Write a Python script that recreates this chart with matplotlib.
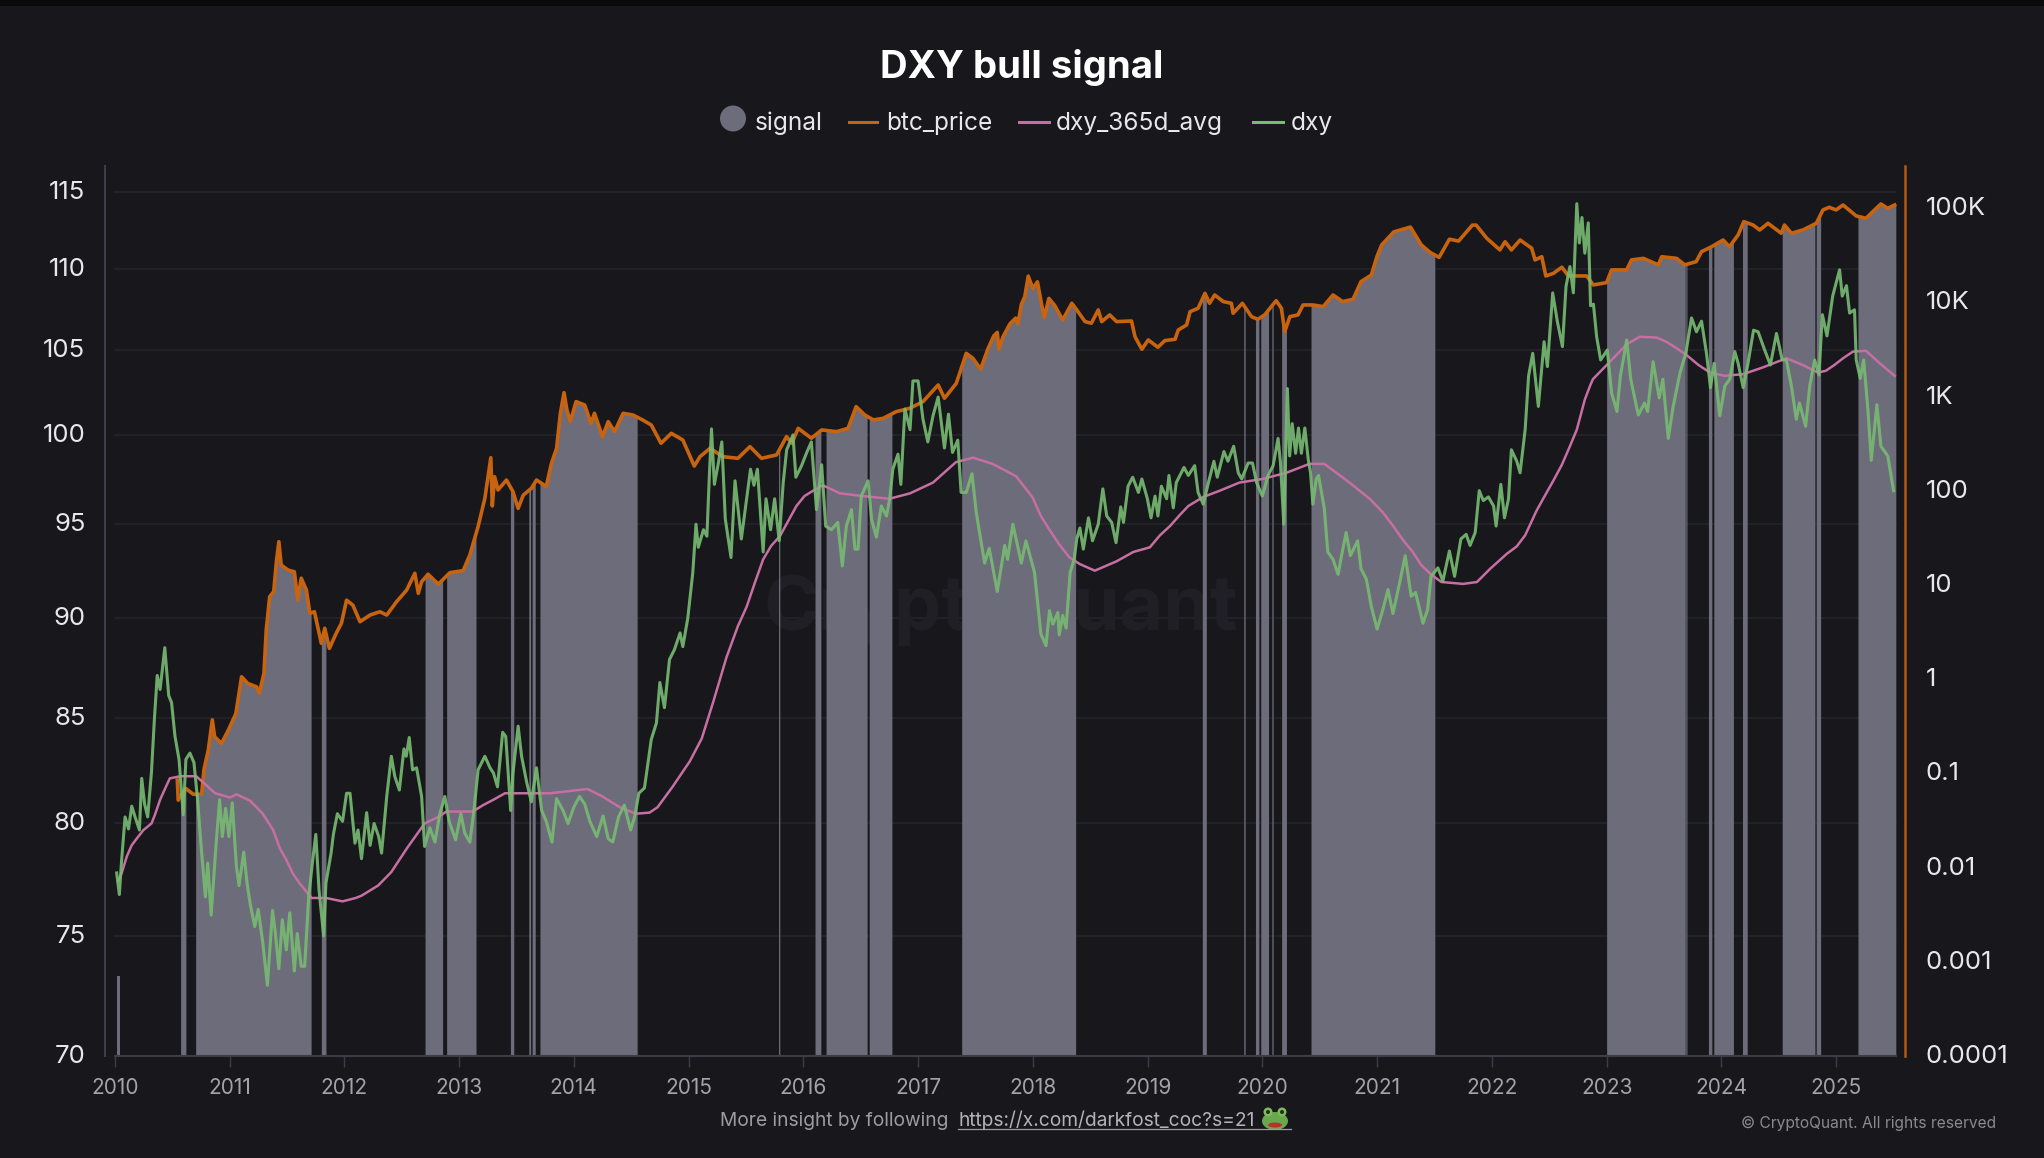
import numpy as np
import matplotlib
matplotlib.use("Agg")
import matplotlib.pyplot as plt
from matplotlib.lines import Line2D
from matplotlib.patches import Ellipse, Rectangle
from matplotlib.transforms import ScaledTranslation

plt.rcParams['font.family'] = ['Inter', 'DejaVu Sans']

# ------------------------------------------------------------------
# data (x in decimal years)
# ------------------------------------------------------------------
dxy_years = [
    2010.017, 2010.04, 2010.06, 2010.09, 2010.12, 2010.148, 2010.177, 2010.215, 2010.235, 2010.26,
    2010.287, 2010.32, 2010.345, 2010.37, 2010.395, 2010.436, 2010.47, 2010.495, 2010.525, 2010.56,
    2010.597, 2010.62, 2010.655, 2010.69, 2010.72, 2010.755, 2010.79, 2010.81, 2010.84, 2010.885,
    2010.914, 2010.937, 2010.966, 2010.995, 2011.024, 2011.06, 2011.083, 2011.124, 2011.153, 2011.18,
    2011.22, 2011.25, 2011.29, 2011.33, 2011.375, 2011.40, 2011.43, 2011.46, 2011.495, 2011.525,
    2011.565, 2011.59, 2011.625, 2011.655, 2011.69, 2011.725, 2011.752, 2011.78, 2011.82, 2011.84,
    2011.885, 2011.905, 2011.94, 2011.985, 2012.02, 2012.05, 2012.093, 2012.12, 2012.15, 2012.195,
    2012.225, 2012.26, 2012.30, 2012.325, 2012.37, 2012.41, 2012.44, 2012.48, 2012.52, 2012.54,
    2012.566, 2012.595, 2012.63, 2012.674, 2012.70, 2012.746, 2012.79, 2012.833, 2012.876, 2012.914,
    2012.97, 2013.016, 2013.05, 2013.094, 2013.13, 2013.166, 2013.225, 2013.27, 2013.30, 2013.335,
    2013.38, 2013.407, 2013.45, 2013.47, 2013.515, 2013.545, 2013.59, 2013.63, 2013.675, 2013.72,
    2013.76, 2013.81, 2013.85, 2013.906, 2013.95, 2014.0, 2014.05, 2014.095, 2014.14, 2014.20,
    2014.255, 2014.30, 2014.34, 2014.39, 2014.44, 2014.495, 2014.53, 2014.567, 2014.616, 2014.675,
    2014.72, 2014.75, 2014.79, 2014.834, 2014.877, 2014.926, 2014.95, 2014.993, 2015.037, 2015.065,
    2015.085, 2015.13, 2015.16, 2015.18, 2015.2, 2015.225, 2015.26, 2015.29, 2015.32, 2015.37,
    2015.405, 2015.46, 2015.54, 2015.57, 2015.6, 2015.65, 2015.675, 2015.715, 2015.75, 2015.79,
    2015.825, 2015.855, 2015.91, 2015.935, 2015.985, 2016.03, 2016.07, 2016.115, 2016.16, 2016.195,
    2016.245, 2016.30, 2016.34, 2016.375, 2016.42, 2016.45, 2016.477, 2016.505, 2016.565, 2016.595,
    2016.637, 2016.68, 2016.725, 2016.753, 2016.78, 2016.825, 2016.85, 2016.885, 2016.93, 2016.955,
    2017.0, 2017.043, 2017.085, 2017.13, 2017.175, 2017.23, 2017.265, 2017.30, 2017.346, 2017.375,
    2017.42, 2017.47, 2017.507, 2017.55, 2017.58, 2017.62, 2017.69, 2017.755, 2017.78, 2017.826,
    2017.9, 2017.94, 2018.015, 2018.07, 2018.115, 2018.145, 2018.174, 2018.218, 2018.23, 2018.26,
    2018.29, 2018.325, 2018.36, 2018.383, 2018.41, 2018.44, 2018.485, 2018.52, 2018.57, 2018.61,
    2018.644, 2018.687, 2018.725, 2018.766, 2018.79, 2018.83, 2018.87, 2018.92, 2018.95, 2018.998,
    2019.03, 2019.065, 2019.09, 2019.12, 2019.166, 2019.186, 2019.224, 2019.25, 2019.317, 2019.355,
    2019.41, 2019.44, 2019.485, 2019.53, 2019.578, 2019.607, 2019.665, 2019.70, 2019.75, 2019.79,
    2019.82, 2019.876, 2019.914, 2019.95, 2020.0, 2020.05, 2020.094, 2020.137, 2020.158, 2020.187,
    2020.218, 2020.238, 2020.26, 2020.29, 2020.315, 2020.34, 2020.37, 2020.40, 2020.42, 2020.44,
    2020.47, 2020.49, 2020.54, 2020.57, 2020.616, 2020.66, 2020.69, 2020.73, 2020.767, 2020.83,
    2020.86, 2020.906, 2020.95, 2021.0, 2021.05, 2021.095, 2021.138, 2021.196, 2021.245, 2021.297,
    2021.335, 2021.40, 2021.44, 2021.47, 2021.53, 2021.573, 2021.63, 2021.675, 2021.73, 2021.776,
    2021.81, 2021.855, 2021.89, 2021.925, 2021.97, 2022.015, 2022.037, 2022.078, 2022.11, 2022.145,
    2022.17, 2022.217, 2022.246, 2022.29, 2022.32, 2022.356, 2022.405, 2022.455, 2022.484, 2022.53,
    2022.57, 2022.615, 2022.646, 2022.68, 2022.71, 2022.74, 2022.762, 2022.785, 2022.81, 2022.84,
    2022.86, 2022.885, 2022.913, 2022.948, 2023.006, 2023.043, 2023.09, 2023.12, 2023.175, 2023.21,
    2023.276, 2023.33, 2023.357, 2023.405, 2023.458, 2023.49, 2023.537, 2023.58, 2023.64, 2023.69,
    2023.74, 2023.783, 2023.827, 2023.87, 2023.905, 2023.937, 2023.986, 2024.03, 2024.073, 2024.117,
    2024.146, 2024.19, 2024.232, 2024.28, 2024.32, 2024.377, 2024.427, 2024.48, 2024.53, 2024.566,
    2024.61, 2024.653, 2024.68, 2024.734, 2024.77, 2024.813, 2024.85, 2024.88, 2024.92, 2024.97,
    2025.03, 2025.053, 2025.09, 2025.117, 2025.16, 2025.175, 2025.21, 2025.24, 2025.277, 2025.306,
    2025.355, 2025.39, 2025.45, 2025.50,
]
dxy_values = [
    77.76, 76.8, 78.35, 80.3, 79.75, 80.8, 80.3, 79.7, 82.1, 80.9,
    80.3, 82.4, 84.9, 87.1, 86.4, 88.5, 86.1, 85.75, 84.1, 83.0,
    80.4, 83.0, 83.3, 82.85, 81.2, 78.8, 76.7, 78.2, 75.9, 79.2,
    81.1, 79.4, 80.7, 79.4, 80.95, 78.05, 77.2, 78.7, 77.3, 76.4,
    75.4, 76.15, 74.7, 72.9, 76.1, 75.1, 73.6, 75.7, 74.4, 76.0,
    73.5, 75.1, 73.7, 73.7, 76.7, 78.35, 79.5, 77.0, 75.0, 77.3,
    78.65, 79.5, 80.45, 80.1, 81.4, 81.4, 79.1, 79.7, 78.4, 80.5,
    79.0, 80.0, 79.4, 78.65, 81.25, 83.15, 82.2, 81.55, 83.5, 83.15,
    84.05, 82.5, 82.6, 81.25, 78.95, 79.8, 79.15, 80.45, 81.25, 80.1,
    79.25, 80.45, 79.55, 79.15, 80.6, 82.5, 83.15, 82.6, 82.35, 81.7,
    84.3, 84.1, 80.6, 82.35, 84.6, 83.15, 81.9, 81.0, 82.6, 80.6,
    80.1, 79.15, 81.15, 80.6, 80.0, 80.75, 81.25, 80.9, 80.1, 79.4,
    80.35, 79.3, 79.15, 80.3, 80.85, 79.7, 80.3, 81.4, 81.65, 83.95,
    84.75, 86.75, 85.5, 87.9, 88.4, 89.25, 88.55, 90.0, 92.4, 95.0,
    93.75, 94.7, 94.35, 97.5, 100.35, 97.2, 98.4, 99.6, 95.3, 93.2,
    97.4, 94.2, 98.05, 97.15, 98.05, 93.5, 96.4, 94.7, 96.4, 94.1,
    97.3, 99.15, 100.0, 97.6, 98.25, 99.0, 99.6, 95.8, 98.3, 94.9,
    94.7, 95.1, 92.75, 94.9, 95.8, 93.65, 93.65, 96.55, 97.4, 95.25,
    94.3, 96.0, 95.45, 96.4, 98.05, 98.9, 97.2, 101.5, 100.3, 103.15,
    103.15, 100.9, 99.6, 101.1, 102.2, 99.25, 101.2, 99.0, 99.7, 96.75,
    96.75, 97.8, 95.65, 94.0, 92.9, 93.7, 91.4, 93.85, 93.1, 95.0,
    92.9, 94.1, 92.4, 89.2, 88.6, 90.4, 89.7, 90.3, 89.15, 90.15,
    89.5, 92.4, 93.1, 94.2, 94.8, 93.65, 95.35, 94.1, 95.0, 96.95,
    95.45, 95.1, 94.0, 95.95, 95.1, 97.1, 97.6, 96.75, 97.5, 96.4,
    95.35, 96.55, 95.45, 97.1, 96.4, 97.7, 95.9, 97.3, 98.15, 97.7,
    98.25, 96.75, 96.1, 97.3, 98.5, 97.6, 99.05, 98.5, 99.35, 97.85,
    97.5, 98.4, 98.4, 97.3, 96.55, 97.7, 98.25, 99.8, 98.4, 95.0,
    102.7, 98.8, 100.65, 98.95, 100.4, 98.95, 100.4, 98.6, 97.85, 96.1,
    97.5, 97.7, 95.85, 93.5, 93.1, 92.3, 93.3, 94.55, 93.3, 94.1,
    92.6, 92.05, 90.6, 89.45, 90.45, 91.5, 90.25, 91.85, 93.3, 91.15,
    91.35, 89.75, 90.45, 92.2, 92.65, 91.95, 93.55, 92.2, 94.2, 94.45,
    93.85, 94.55, 96.85, 96.3, 96.5, 96.0, 94.9, 97.2, 95.35, 96.4,
    99.15, 98.5, 97.85, 100.3, 103.45, 104.8, 101.65, 105.5, 104.0, 108.5,
    106.75, 105.2, 108.9, 110.15, 108.5, 114.2, 111.65, 113.3, 111.0, 112.95,
    107.7, 107.8, 105.8, 104.4, 105.0, 102.45, 101.35, 103.45, 105.6, 103.25,
    101.15, 101.85, 101.35, 104.3, 102.15, 103.25, 99.8, 101.65, 103.65, 104.8,
    106.95, 106.1, 106.75, 104.8, 102.75, 104.2, 101.1, 102.85, 103.25, 104.9,
    104.2, 102.75, 104.2, 106.2, 106.1, 105.0, 104.1, 106.0, 104.4, 104.4,
    102.85, 100.9, 101.85, 100.5, 102.85, 104.4, 103.5, 107.15, 105.85, 108.3,
    109.95, 108.3, 108.95, 107.25, 107.45, 104.4, 103.3, 104.4, 101.45, 98.55,
    101.75, 99.35, 98.8, 96.85,
]

avg_years = [
    2010.03, 2010.06, 2010.105, 2010.147, 2010.19, 2010.25, 2010.32, 2010.35, 2010.395, 2010.437,
    2010.48, 2010.57, 2010.71, 2010.875, 2011.005, 2011.06, 2011.18, 2011.29, 2011.38, 2011.44,
    2011.495, 2011.55, 2011.61, 2011.715, 2011.84, 2011.985, 2012.10, 2012.15, 2012.295, 2012.41,
    2012.55, 2012.70, 2012.82, 2012.89, 2013.12, 2013.21, 2013.30, 2013.4, 2013.56, 2013.79,
    2014.12, 2014.25, 2014.4, 2014.54, 2014.66, 2014.73, 2014.86, 2015.01, 2015.115, 2015.216,
    2015.33, 2015.43, 2015.506, 2015.58, 2015.65, 2015.72, 2015.796, 2015.87, 2015.94, 2016.01,
    2016.086, 2016.17, 2016.32, 2016.52, 2016.75, 2016.93, 2017.13, 2017.33, 2017.48, 2017.65,
    2017.855, 2018.0, 2018.07, 2018.145, 2018.23, 2018.32, 2018.41, 2018.54, 2018.73, 2018.876,
    2019.02, 2019.108, 2019.195, 2019.28, 2019.355, 2019.485, 2019.63, 2019.8, 2020.0, 2020.21,
    2020.41, 2020.54, 2020.76, 2020.848, 2020.935, 2021.05, 2021.14, 2021.225, 2021.31, 2021.385,
    2021.47, 2021.56, 2021.75, 2021.87, 2021.985, 2022.13, 2022.217, 2022.29, 2022.39, 2022.46,
    2022.535, 2022.61, 2022.68, 2022.74, 2022.81, 2022.855, 2022.88, 2023.03, 2023.10, 2023.175,
    2023.29, 2023.435, 2023.52, 2023.61, 2023.695, 2023.80, 2023.9, 2024.03, 2024.19, 2024.36,
    2024.566, 2024.71, 2024.84, 2024.91, 2024.985, 2025.06, 2025.146, 2025.26, 2025.38, 2025.45,
    2025.51,
]
avg_values = [
    77.4, 77.75, 78.5, 79.0, 79.3, 79.7, 80.0, 80.4, 81.1, 81.6,
    82.1, 82.2, 82.2, 81.4, 81.2, 81.35, 81.05, 80.45, 79.7, 78.85,
    78.35, 77.75, 77.3, 76.65, 76.65, 76.5, 76.65, 76.75, 77.2, 77.8,
    78.9, 80.0, 80.3, 80.55, 80.55, 80.85, 81.1, 81.4, 81.4, 81.4,
    81.6, 81.25, 80.75, 80.45, 80.5, 80.75, 81.7, 82.9, 84.0, 85.8,
    88.0, 89.6, 90.6, 91.9, 93.1, 93.83, 94.35, 95.2, 96.0, 96.55,
    96.85, 97.15, 96.7, 96.55, 96.4, 96.7, 97.3, 98.45, 98.7, 98.35,
    97.65, 96.45, 95.45, 94.7, 93.9, 93.2, 92.85, 92.5, 93.0, 93.5,
    93.75, 94.4, 94.9, 95.5, 96.0, 96.5, 96.85, 97.3, 97.5, 97.85,
    98.35, 98.35, 97.3, 96.85, 96.4, 95.65, 94.9, 94.15, 93.5, 92.8,
    92.3, 91.9, 91.8, 91.9, 92.6, 93.4, 93.8, 94.4, 95.75, 96.55,
    97.4, 98.3, 99.35, 100.3, 102.05, 102.85, 103.25, 104.3, 104.8, 105.35,
    105.8, 105.75, 105.5, 105.1, 104.7, 104.1, 103.65, 103.45, 103.55, 103.95,
    104.5, 104.1, 103.65, 103.75, 104.1, 104.5, 104.9, 104.95, 104.2, 103.8,
    103.45,
]

btc_years = [
    2010.545, 2010.553, 2010.57, 2010.62, 2010.684, 2010.757, 2010.777, 2010.815, 2010.85, 2010.87,
    2010.93, 2010.99, 2011.055, 2011.105, 2011.16, 2011.235, 2011.26, 2011.30, 2011.32, 2011.35,
    2011.385, 2011.41, 2011.43, 2011.45, 2011.51, 2011.565, 2011.595, 2011.625, 2011.67, 2011.70,
    2011.74, 2011.80, 2011.83, 2011.87, 2011.93, 2011.975, 2012.02, 2012.075, 2012.137, 2012.224,
    2012.31, 2012.37, 2012.456, 2012.543, 2012.615, 2012.645, 2012.674, 2012.73, 2012.82, 2012.92,
    2013.036, 2013.094, 2013.166, 2013.225, 2013.277, 2013.29, 2013.31, 2013.34, 2013.413, 2013.47,
    2013.515, 2013.56, 2013.63, 2013.675, 2013.76, 2013.805, 2013.85, 2013.883, 2013.915, 2013.94,
    2013.97, 2014.02, 2014.095, 2014.15, 2014.18, 2014.25, 2014.30, 2014.355, 2014.43, 2014.515,
    2014.6, 2014.675, 2014.76, 2014.85, 2014.95, 2015.05, 2015.10, 2015.187, 2015.30, 2015.43,
    2015.535, 2015.636, 2015.767, 2015.854, 2015.9, 2015.955, 2016.07, 2016.16, 2016.29, 2016.39,
    2016.46, 2016.535, 2016.61, 2016.695, 2016.81, 2016.927, 2017.043, 2017.175, 2017.23, 2017.333,
    2017.42, 2017.478, 2017.545, 2017.61, 2017.66, 2017.69, 2017.705, 2017.74, 2017.80, 2017.85,
    2017.87, 2017.90, 2017.93, 2017.96, 2018.0, 2018.04, 2018.08, 2018.10, 2018.14, 2018.19,
    2018.26, 2018.34, 2018.383, 2018.455, 2018.51, 2018.57, 2018.6, 2018.67, 2018.73, 2018.86,
    2018.89, 2018.95, 2019.006, 2019.09, 2019.15, 2019.24, 2019.267, 2019.34, 2019.37, 2019.44,
    2019.5, 2019.54, 2019.585, 2019.66, 2019.73, 2019.745, 2019.826, 2019.905, 2019.96, 2020.02,
    2020.12, 2020.166, 2020.195, 2020.24, 2020.31, 2020.355, 2020.44, 2020.53, 2020.616, 2020.70,
    2020.79, 2020.86, 2020.95, 2021.0, 2021.04, 2021.146, 2021.29, 2021.385, 2021.46, 2021.54,
    2021.63, 2021.71, 2021.83, 2021.863, 2021.956, 2022.07, 2022.115, 2022.17, 2022.246, 2022.347,
    2022.376, 2022.435, 2022.47, 2022.536, 2022.61, 2022.667, 2022.826, 2022.884, 2023.0, 2023.043,
    2023.174, 2023.217, 2023.32, 2023.45, 2023.48, 2023.61, 2023.68, 2023.78, 2023.827, 2023.914,
    2024.015, 2024.07, 2024.146, 2024.195, 2024.276, 2024.334, 2024.406, 2024.522, 2024.55, 2024.61,
    2024.71, 2024.827, 2024.885, 2024.94, 2025.0, 2025.06, 2025.175, 2025.26, 2025.335, 2025.39,
    2025.45, 2025.51,
]
btc_values = [
    0.085, 0.052, 0.057, 0.069, 0.06, 0.06, 0.109, 0.177, 0.37, 0.245,
    0.208, 0.288, 0.43, 1.06, 0.90, 0.83, 0.71, 1.15, 3.33, 7.5,
    8.5, 18.4, 28.8, 16.3, 14.4, 13.8, 6.9, 11.8, 8.85, 5.0,
    5.2, 2.4, 3.47, 2.12, 3.07, 3.92, 6.9, 6.1, 4.07, 4.79,
    5.2, 4.79, 6.65, 8.8, 13.3, 8.15, 10.8, 13.0, 10.2, 13.5,
    14.2, 20.8, 41.6, 83, 224, 69, 141, 102, 130, 98,
    65, 90, 106, 130, 111, 195, 282, 664, 1100, 720,
    542, 884, 813, 520, 664, 375, 542, 424, 664, 637,
    564, 499, 319, 407, 346, 183, 230, 282, 230, 221,
    294, 221, 240, 376, 319, 460, 361, 442, 424, 460,
    782, 638, 565, 587, 692, 750, 883, 1327, 959, 1380,
    2877, 2547, 1950, 3240, 4400, 4800, 3200, 4300, 5900, 6800,
    5900, 9500, 11500, 19000, 14000, 16500, 9000, 6900, 11000, 9300,
    6500, 9770, 8300, 6240, 6000, 8300, 6240, 7350, 6240, 6340,
    4325, 3175, 3990, 3335, 3925, 4055, 5090, 5750, 7960, 8650,
    12470, 9770, 11970, 10180, 9770, 7650, 9770, 7050, 6610, 7350,
    10420, 8650, 4890, 7050, 7350, 9380, 9380, 9010, 11970, 10180,
    10770, 16600, 19500, 31000, 40700, 56000, 63000, 40700, 34000, 30000,
    46800, 44700, 66000, 66100, 47800, 36000, 44000, 36000, 45900, 37500,
    28200, 30500, 19050, 20300, 23600, 19050, 19050, 15300, 16200, 22100,
    22100, 28200, 29300, 25000, 30500, 29300, 25000, 27000, 34500, 38900,
    45900, 38900, 51900, 71900, 66200, 58600, 69000, 54100, 66200, 54100,
    58600, 69000, 95700, 102000, 95700, 108000, 82600, 78000, 95700, 110700,
    99500, 108000,
]

# periods where the signal is on, start / end year
signal_start = [2010.574, 2010.705, 2011.80, 2012.704, 2012.892, 2013.448, 2013.608, 2013.637, 2013.705,
                2015.784, 2016.102, 2016.198, 2016.574, 2017.38, 2019.477, 2019.838, 2019.94, 2019.986,
                2020.083, 2020.168, 2020.424, 2023.0, 2023.69, 2023.887, 2023.934, 2024.184, 2024.53,
                2024.826, 2025.19]
signal_end = [2010.62, 2011.711, 2011.84, 2012.857, 2013.148, 2013.477, 2013.624, 2013.664, 2014.552,
              2015.795, 2016.153, 2016.556, 2016.772, 2018.373, 2019.512, 2019.85, 2019.97, 2020.054,
              2020.094, 2020.21, 2021.503, 2023.685, 2023.70, 2023.917, 2024.105, 2024.225, 2024.815,
              2024.865, 2025.52]
# the first signal is before the price line starts
early_signal = [2010.023, 2010.046]
early_signal_top = 0.0007

year_ticks = list(range(2010, 2026))
left_ticks = [70, 75, 80, 85, 90, 95, 100, 105, 110, 115]
right_ticks = [0.0001, 0.001, 0.01, 0.1, 1, 10, 100, 1000, 10000, 100000]
right_labels = ['0.0001', '0.001', '0.01', '0.1', '1', '10', '100', '1K', '10K', '100K']

# ------------------------------------------------------------------
# colours
# ------------------------------------------------------------------
bg = '#17171c'
grid_col = '#25252c'
axis_col = '#3d3d47'
signal_col = '#6d6c7a'
btc_col = '#c8640f'
avg_col = '#c76fa3'
dxy_col = '#78bb72'

W, H = 2044, 1158


def fx(px):
    return px / W


def fy(py):
    return 1 - py / H


fig = plt.figure(figsize=(W / 100, H / 100), dpi=100, facecolor=bg)
fig.add_artist(Rectangle((0, fy(6)), 1, 6 / H, transform=fig.transFigure, color='#0a0a0b', lw=0))

rect = [fx(105), fy(1056), fx(1905) - fx(105), (1056 - 166) / H]
ax = fig.add_axes(rect, facecolor=bg, zorder=1)   # grid + left ticks
ax2 = ax.twinx()                                  # price and signal, right scale
ax3 = ax.twinx()                                  # dxy lines back on the left scale
ax2.set_zorder(2)
ax3.set_zorder(3)

x_lim = (2009.915, 2025.60)
left_lim = (70, 116.7)
right_lim = (0.0001, 280000)
x_end = 2025.52

ax.set_xlim(x_lim)
for a, lim in ((ax, left_lim), (ax3, left_lim), (ax2, right_lim)):
    a.set_yscale('log')
    a.set_ylim(lim)
    a.minorticks_off()

# gridlines stop short of the axes on both sides
for v in left_ticks[1:]:
    ax.plot([2010, x_end], [v, v], color=grid_col, lw=1.1, zorder=1)

ax.text(2017.72, 90.4, 'CryptoQuant', color='#1f1f25', fontsize=54, fontweight='bold',
        ha='center', va='center', zorder=2)

# signal areas reach up to the price line
btc_x = np.array(btc_years)
btc_y = np.array(btc_values)
for s, e in zip(signal_start, signal_end):
    inner = btc_x[(btc_x > s) & (btc_x < e)]
    xs = np.concatenate(([s], inner, [e]))
    ys = 10 ** np.interp(xs, btc_x, np.log10(btc_y))
    ax2.fill_between(xs, right_lim[0], ys, color=signal_col, lw=0, zorder=1)
ax2.fill_between(early_signal, right_lim[0], early_signal_top, color=signal_col, lw=0, zorder=1)

ax2.plot(btc_years, btc_values, color=btc_col, lw=2.6, zorder=2, solid_joinstyle='round')
ax3.plot(avg_years, avg_values, color=avg_col, lw=1.8, zorder=3, solid_joinstyle='round')
ax3.plot(dxy_years, dxy_values, color=dxy_col, lw=2.2, alpha=0.9, zorder=4, solid_joinstyle='round')
ax3.plot([2010, x_end], [70, 70], color=axis_col, lw=1.5, zorder=5, clip_on=False)

# ticks
ax.set_xticks(year_ticks)
ax.set_xticklabels([str(y) for y in year_ticks])
ax.tick_params(axis='x', length=8, width=1, color=axis_col, labelcolor='#a3a3a8', labelsize=15, pad=7.5)
ax.set_yticks(left_ticks)
ax.set_yticklabels([str(v) for v in left_ticks])
ax.tick_params(axis='y', which='major', length=0, labelcolor='#e8e8ea', labelsize=18.5, pad=14)
ax.tick_params(axis='y', which='minor', length=0, labelleft=False)

ax2.set_yticks(right_ticks)
ax2.set_yticklabels(right_labels)
ax2.tick_params(axis='y', which='major', length=0, labelcolor='#e8e8ea', labelsize=18.5, pad=15)
ax2.tick_params(axis='y', which='minor', length=0, labelright=False)

# y labels sit a little above their gridlines
nudge = ScaledTranslation(0, 2 / 100, fig.dpi_scale_trans)
for lbl in ax.get_yticklabels() + ax2.get_yticklabels():
    lbl.set_transform(lbl.get_transform() + nudge)

ax3.set_yticks([])
ax3.tick_params(axis='y', which='both', length=0, labelright=False)

for a in (ax, ax2, ax3):
    for sp in a.spines.values():
        sp.set_visible(False)
ax.spines['left'].set_visible(True)
ax.spines['left'].set_color(axis_col)
ax.spines['left'].set_linewidth(1.5)
ax2.spines['right'].set_visible(True)
ax2.spines['right'].set_color('#b5590f')
ax2.spines['right'].set_linewidth(1.8)

# title and legend
fig.text(fx(1022), fy(67.5), 'DXY bull signal', color='white', fontsize=27.6, fontweight='bold',
         ha='center', va='center')

leg_y = fy(123.5)
fig.add_artist(Ellipse((fx(733), fy(118.5)), 26 / W, 26 / H, transform=fig.transFigure,
                       color=signal_col, lw=0))
for x0, x1, col in ((849, 877, btc_col), (1019, 1049, avg_col), (1253, 1283, dxy_col)):
    fig.add_artist(Line2D([fx(x0), fx(x1)], [fy(122), fy(122)], transform=fig.transFigure, color=col, lw=2.2))
for x0, label in ((755, 'signal'), (886, 'btc_price'), (1056, 'dxy_365d_avg'), (1291, 'dxy')):
    fig.text(fx(x0), leg_y, label, color='#e8e8ea', fontsize=17.6, ha='left', va='center')

# footer
fig.text(fx(720), fy(1120.5), 'More insight by following', color='#9c9ca2', fontsize=13.8, ha='left', va='center')
fig.text(fx(958), fy(1120.5), 'https://x.com/darkfost_coc?s=21', color='#b4b4b8', fontsize=13.8, ha='left', va='center')
fig.add_artist(Line2D([fx(958), fx(1291)], [fy(1129), fy(1129)], transform=fig.transFigure, color='#9c9ca2', lw=0.9))
fig.text(fx(1741), fy(1123), '© CryptoQuant. All rights reserved', color='#8a8a90', fontsize=11.2, ha='left', va='center')

# frog emoji, no emoji font here so it is built from shapes
frog_parts = [((1275, 1121), 26, 18, '#6aa84f'), ((1268, 1112), 9, 9, '#7dbb5c'), ((1282, 1112), 9, 9, '#7dbb5c'),
              ((1268, 1112), 4, 4, '#20301a'), ((1282, 1112), 4, 4, '#20301a'), ((1275, 1125), 14, 5, '#b5332a')]
for (cx, cy), w, h, col in frog_parts:
    fig.add_artist(Ellipse((fx(cx), fy(cy)), w / W, h / H, transform=fig.transFigure, color=col, lw=0))

fig.savefig('out.png', dpi=100, facecolor=bg)
